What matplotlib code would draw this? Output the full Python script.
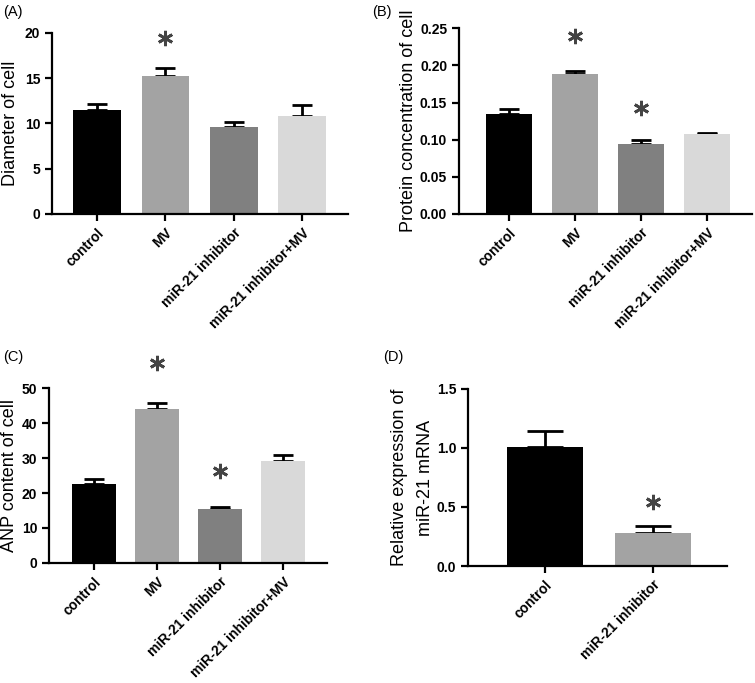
import matplotlib.pyplot as plt
import numpy as np

plt.rcParams['font.family'] = ['Liberation Sans', 'DejaVu Sans']

groups4 = ["control", "MV", "miR-21 inhibitor", "miR-21 inhibitor+MV"]
groups2 = ["control", "miR-21 inhibitor"]

diameter = [11.5, 15.3, 9.6, 10.8]
diameter_err = [0.6, 0.8, 0.6, 1.2]
diameter_star = [None, 19.4, None, None]

protein = [0.135, 0.189, 0.094, 0.107]
protein_err = [0.006, 0.003, 0.005, 0.002]
protein_star = [None, 0.239, 0.1425, None]

anp = [22.7, 44.0, 15.4, 29.2]
anp_err = [1.3, 1.8, 0.6, 1.7]
anp_star = [None, 57.1, 26.3, None]

mirna = [1.01, 0.28]
mirna_err = [0.13, 0.055]
mirna_star = [None, 0.542]

colors4 = ["#000000", "#a3a3a3", "#808080", "#d9d9d9"]
colors2 = ["#000000", "#a3a3a3"]

fig = plt.figure(figsize=(7.55, 6.83), dpi=100)


def panel(rect, labels, vals, errs, stars, cols, ylim, yticks, fmt, ylabel, xlim, capsize):
    ax = fig.add_axes(rect)
    x = np.arange(len(vals))
    ax.bar(x, vals, width=0.7, color=cols, zorder=2)
    ax.errorbar(x, vals, yerr=[np.zeros(len(errs)), errs], fmt='none',
                ecolor='black', elinewidth=2, capsize=capsize, capthick=2, zorder=1)
    for xi, s in zip(x, stars):
        if s is not None:
            ax.plot(xi, s, marker=(6, 2, 0), markersize=11, mew=2.0,
                    color='#444444', clip_on=False)
    ax.set_xlim(*xlim)
    ax.set_ylim(*ylim)
    ax.set_yticks(yticks)
    ax.set_yticklabels([fmt.format(t) for t in yticks], fontsize=10, fontweight='bold')
    ax.set_xticks(x)
    ax.set_xticklabels(labels, rotation=45, ha='right', rotation_mode='anchor',
                       fontsize=10, fontweight='bold')
    for sp in ['top', 'right']:
        ax.spines[sp].set_visible(False)
    for sp in ['left', 'bottom']:
        ax.spines[sp].set_linewidth(1.6)
    ax.tick_params(width=1.6, length=5)
    ax.set_ylabel(ylabel, fontsize=13, linespacing=1.7)
    return ax


axA = panel([0.0689, 0.6867, 0.392, 0.265], groups4, diameter, diameter_err, diameter_star,
            colors4, (0, 20), [0, 5, 10, 15, 20], "{:g}", "Diameter of cell", (-0.66, 3.67), 7)
axB = panel([0.608, 0.6867, 0.388, 0.272], groups4, protein, protein_err, protein_star,
            colors4, (0, 0.25), [0, 0.05, 0.10, 0.15, 0.20, 0.25], "{:.2f}",
            "Protein concentration of cell", (-0.76, 3.68), 7)
axC = panel([0.0649, 0.1757, 0.368, 0.2562], groups4, anp, anp_err, anp_star,
            colors4, (0, 50), [0, 10, 20, 30, 40, 50], "{:g}", "ANP content of cell",
            (-0.72, 3.69), 7)
axD = panel([0.620, 0.1713, 0.343, 0.2592], groups2, mirna, mirna_err, mirna_star,
            colors2, (0, 1.5), [0, 0.5, 1.0, 1.5], "{:.1f}",
            "Relative expression of\nmiR-21 mRNA", (-0.71, 1.68), 13)

axA.yaxis.set_label_coords(-0.113, 0.5)
axB.yaxis.set_label_coords(-0.143, 0.5)
axC.yaxis.set_label_coords(-0.110, 0.5)
axD.yaxis.set_label_coords(-0.131, 0.5)

fig.text(0.004, 0.982, "(A)", fontsize=10.5, va='center')
fig.text(0.493, 0.982, "(B)", fontsize=10.5, va='center')
fig.text(0.004, 0.477, "(C)", fontsize=10.5, va='center')
fig.text(0.507, 0.477, "(D)", fontsize=10.5, va='center')

fig.savefig("out.png", dpi=100)
